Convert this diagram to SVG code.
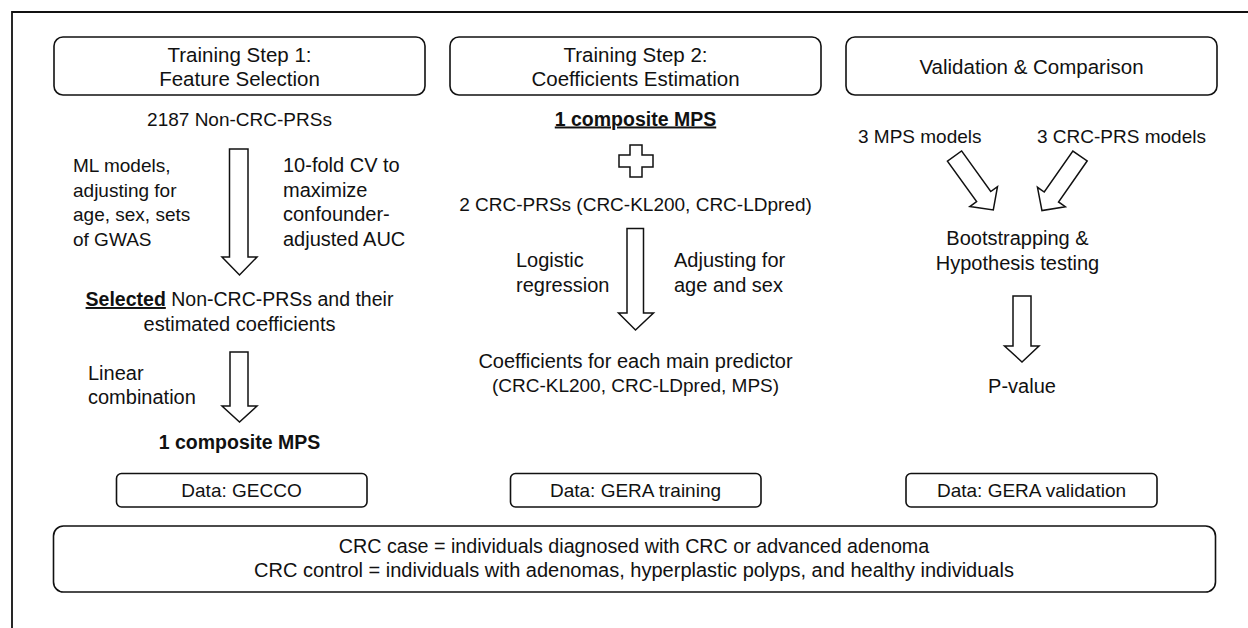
<svg xmlns="http://www.w3.org/2000/svg" width="1248" height="628" viewBox="0 0 1248 628">
<style>
text{font-family:"Liberation Sans",Arial,sans-serif;font-size:20px;fill:#111}
.m{text-anchor:middle}
.b{font-weight:bold;font-size:19.5px}
.u{text-decoration:underline}
.h{font-size:20.5px}
.c{font-size:19px}
.box{fill:#fff;stroke:#111;stroke-width:1.6}
.arr{fill:#fff;stroke:#111;stroke-width:1.5;stroke-linejoin:miter}
.frame{stroke:#111;stroke-width:1.8;fill:none}
</style>
<rect x="0" y="0" width="1248" height="628" fill="#fff"/>
<path class="frame" d="M12 628 V12 H1248"/>

<g id="header1"><rect class="box" x="54" y="37" width="371" height="58" rx="9"/>
<text class="m h" x="239.5" y="61.5">Training Step 1:</text>
<text class="m h" x="239.5" y="86">Feature Selection</text></g>
<g id="header2"><rect class="box" x="450" y="37" width="371" height="58" rx="9"/>
<text class="m h" x="635.5" y="61.5">Training Step 2:</text>
<text class="m h" x="635.5" y="86">Coefficients Estimation</text></g>
<g id="header3"><rect class="box" x="846" y="37" width="371" height="58" rx="9"/>
<text class="m h" x="1031.5" y="73.5">Validation &amp; Comparison</text></g>

<g id="col1">
<text class="m c" x="239.5" y="126">2187 Non-CRC-PRSs</text>
<text class="c" x="73" y="172">ML models,</text>
<text class="c" x="73" y="196.5">adjusting for</text>
<text class="c" x="73" y="221">age, sex, sets</text>
<text class="c" x="73" y="245.5">of GWAS</text>
<text x="283" y="172">10-fold CV to</text>
<text x="283" y="196.5">maximize</text>
<text x="283" y="221">confounder-</text>
<text x="283" y="245.5">adjusted AUC</text>
<text class="m" x="239.5" y="306" style="font-size:19.5px"><tspan class="b u">Selected</tspan> Non-CRC-PRSs and their</text>
<text class="m" x="239.5" y="330.5">estimated coefficients</text>
<text x="88" y="379.5">Linear</text>
<text x="88" y="404">combination</text>
<text class="m b" x="239.5" y="448.5">1 composite MPS</text>
</g>

<g id="col2">
<text class="m b u" x="635.5" y="125.5">1 composite MPS</text>
<path class="arr" d="M630 145 H642 V155 H653 V167 H642 V177 H630 V167 H619 V155 H630 Z"/>
<text class="m c" x="635.5" y="210.5">2 CRC-PRSs (CRC-KL200, CRC-LDpred)</text>
<text x="516" y="266.5">Logistic</text>
<text x="516" y="291.5">regression</text>
<text x="674" y="266.5">Adjusting for</text>
<text x="674" y="291.5">age and sex</text>
<text class="m" x="635.5" y="367.5">Coefficients for each main predictor</text>
<text class="m c" x="635.5" y="391.5">(CRC-KL200, CRC-LDpred, MPS)</text>
</g>

<g id="col3">
<text class="c" x="858" y="142.5">3 MPS models</text>
<text class="c" x="1037" y="142.5">3 CRC-PRS models</text>
<text class="m" x="1017.5" y="245">Bootstrapping &amp;</text>
<text class="m" x="1017.5" y="269.5">Hypothesis testing</text>
<text class="m" x="1022" y="392.5">P-value</text>
</g>

<g id="connectors">
<path class="arr" d="M229.5 149 H248 V257 H257 L239.5 275 L222 257 H229.5 Z"/>
<path class="arr" d="M230 352 H248 V406 H257 L239.5 422 L222 406 H230 Z"/>
<path class="arr" d="M627 228.5 H643.5 V313 H653.5 L635.5 330 L618.5 313 H627 Z"/>
<path class="arr" d="M1013 296 H1031 V346 H1039 L1022 362 L1004.5 346 H1013 Z"/>
<path class="arr" transform="translate(954.5 156) rotate(54.3)" d="M0 -8.7 H50 V-17 L66.5 0 L50 17 V8.7 H0 Z"/>
<path class="arr" transform="translate(1080 156) rotate(124.9)" d="M0 -8.7 H50 V-17 L66.5 0 L50 17 V8.7 H0 Z"/>
</g>

<g id="data1"><rect class="box" x="116.5" y="473.5" width="250.5" height="33.5" rx="5"/>
<text class="m c" x="241.5" y="497">Data: GECCO</text></g>
<g id="data2"><rect class="box" x="510.5" y="473.5" width="250.5" height="33.5" rx="5"/>
<text class="m c" x="635.5" y="497">Data: GERA training</text></g>
<g id="data3"><rect class="box" x="906" y="473.5" width="251" height="33.5" rx="5"/>
<text class="m c" x="1031.5" y="497">Data: GERA validation</text></g>

<g id="definitions"><rect class="box" x="53.5" y="526" width="1162" height="66" rx="10"/>
<text class="m" x="634" y="552.5" style="font-size:19.7px">CRC case = individuals diagnosed with CRC or advanced adenoma</text>
<text class="m" x="634" y="577">CRC control = individuals with adenomas, hyperplastic polyps, and healthy individuals</text></g>
</svg>
